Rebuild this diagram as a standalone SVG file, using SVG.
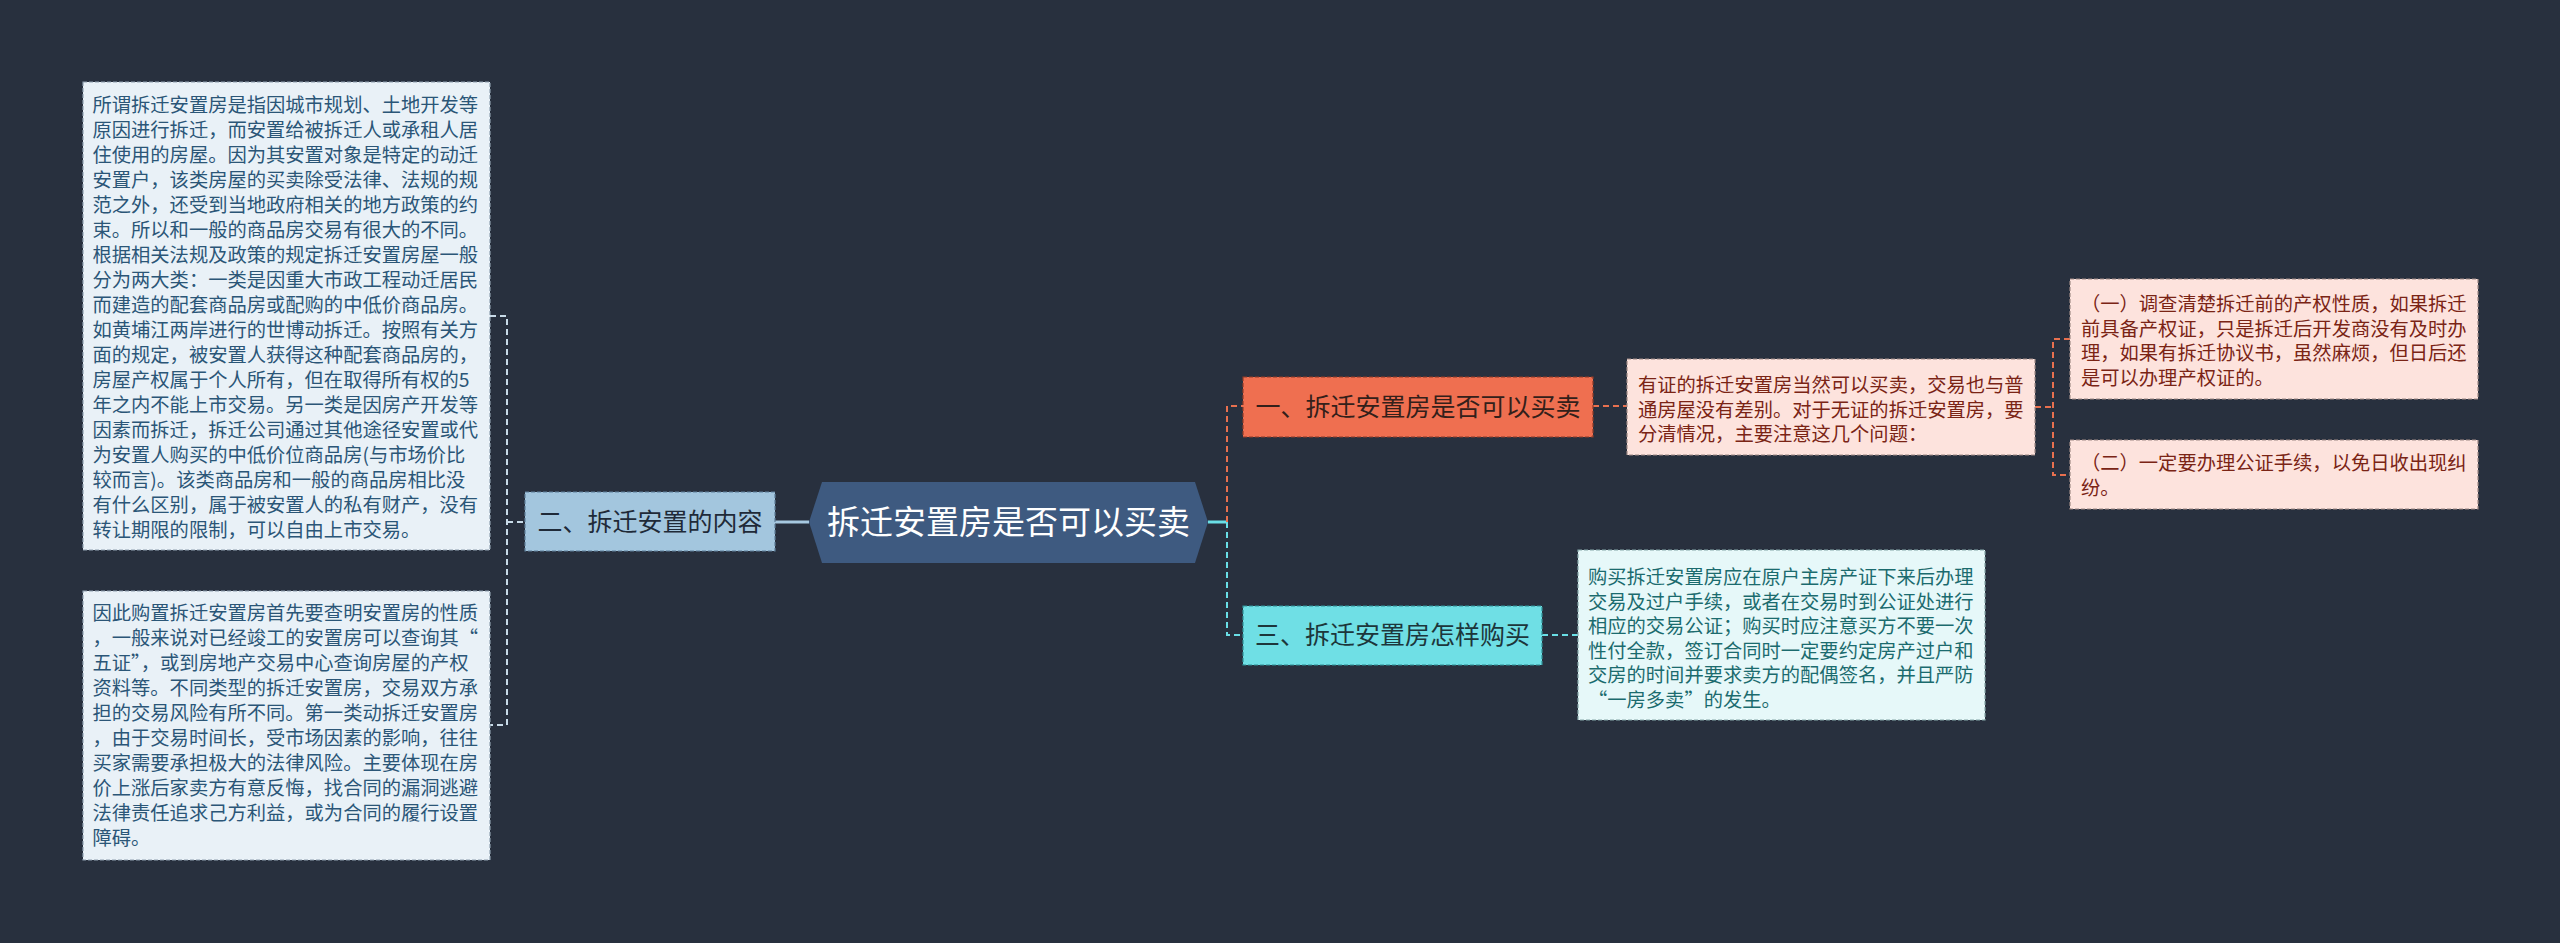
<svg xmlns="http://www.w3.org/2000/svg" width="2560" height="943" viewBox="0 0 2560 943">
<style>
text{font-family:"Noto Sans CJK SC","Noto Sans",sans-serif;}
.d{font-size:19.3px;}
.lb{fill:#e9f1f7;stroke:#8fa0b0;stroke-width:1.2;stroke-dasharray:4 2;}
.lt{fill:#2b5677;}
.pk{fill:#fde3dd;stroke:#a08a86;stroke-width:1.2;stroke-dasharray:4 2;}
.pt{fill:#7a2415;}
.cy{fill:#e6f8f9;stroke:#86a7a9;stroke-width:1.2;stroke-dasharray:4 2;}
.ct{fill:#1b6b6e;}
.t{font-size:25px;text-anchor:middle;}
.co{fill:none;stroke-width:2;stroke-dasharray:6 4;}
</style>
<rect width="2560" height="943" fill="#28303e"/>
<g id="connectors">
<path class="co" stroke="#c9dbe8" d="M490,316 H507 V725 H490 M507,522 H525"/>
<line x1="775" y1="522" x2="809" y2="522" stroke="#a6c8e0" stroke-width="3"/>
<line x1="1208" y1="522" x2="1227" y2="522" stroke="#6adfe6" stroke-width="3"/>
<path class="co" stroke="#e8704f" d="M1227,522 V406 H1243"/>
<path class="co" stroke="#e8704f" d="M1593,406 H1627"/>
<path class="co" stroke="#e8704f" d="M2035,407 H2053 M2070,339 H2053 V475 H2070"/>
<path class="co" stroke="#6adfe6" d="M1227,522 V635 H1243"/>
<path class="co" stroke="#6adfe6" d="M1542,635 H1578"/>
</g>
<g id="root">
<polygon points="809,522 822,482 1195,482 1208,522 1195,563 822,563" fill="#3e5a80"/>
<text x="1008.5" y="534" font-size="33" text-anchor="middle" fill="#ffffff">拆迁安置房是否可以买卖</text>
</g>
<g id="topic2">
<rect x="525" y="492" width="250" height="59" fill="#a3c6de" stroke="#5f7f99" stroke-width="1.2" stroke-dasharray="4 2"/>
<text class="t" x="650" y="531" fill="#1f2a38">二、拆迁安置的内容</text>
</g>
<g id="left1">
<rect class="lb" x="83" y="82" width="407" height="468"/>
<text class="d lt">
<tspan x="92.5" y="112">所谓拆迁安置房是指因城市规划、土地开发等</tspan>
<tspan x="92.5" y="137">原因进行拆迁，而安置给被拆迁人或承租人居</tspan>
<tspan x="92.5" y="162">住使用的房屋。因为其安置对象是特定的动迁</tspan>
<tspan x="92.5" y="187">安置户，该类房屋的买卖除受法律、法规的规</tspan>
<tspan x="92.5" y="212">范之外，还受到当地政府相关的地方政策的约</tspan>
<tspan x="92.5" y="237">束。所以和一般的商品房交易有很大的不同。</tspan>
<tspan x="92.5" y="262">根据相关法规及政策的规定拆迁安置房屋一般</tspan>
<tspan x="92.5" y="287">分为两大类：一类是因重大市政工程动迁居民</tspan>
<tspan x="92.5" y="312">而建造的配套商品房或配购的中低价商品房。</tspan>
<tspan x="92.5" y="337">如黄埔江两岸进行的世博动拆迁。按照有关方</tspan>
<tspan x="92.5" y="362">面的规定，被安置人获得这种配套商品房的，</tspan>
<tspan x="92.5" y="387">房屋产权属于个人所有，但在取得所有权的5</tspan>
<tspan x="92.5" y="412">年之内不能上市交易。另一类是因房产开发等</tspan>
<tspan x="92.5" y="437">因素而拆迁，拆迁公司通过其他途径安置或代</tspan>
<tspan x="92.5" y="462">为安置人购买的中低价位商品房(与市场价比</tspan>
<tspan x="92.5" y="487">较而言)。该类商品房和一般的商品房相比没</tspan>
<tspan x="92.5" y="512">有什么区别，属于被安置人的私有财产，没有</tspan>
<tspan x="92.5" y="537">转让期限的限制，可以自由上市交易。</tspan>
</text>
</g>
<g id="left2">
<rect class="lb" x="83" y="591" width="407" height="269"/>
<text class="d lt">
<tspan x="92.5" y="620">因此购置拆迁安置房首先要查明安置房的性质</tspan>
<tspan x="92.5" y="645">，一般来说对已经竣工的安置房可以查询其“</tspan>
<tspan x="92.5" y="670">五证”，或到房地产交易中心查询房屋的产权</tspan>
<tspan x="92.5" y="695">资料等。不同类型的拆迁安置房，交易双方承</tspan>
<tspan x="92.5" y="720">担的交易风险有所不同。第一类动拆迁安置房</tspan>
<tspan x="92.5" y="745">，由于交易时间长，受市场因素的影响，往往</tspan>
<tspan x="92.5" y="770">买家需要承担极大的法律风险。主要体现在房</tspan>
<tspan x="92.5" y="795">价上涨后家卖方有意反悔，找合同的漏洞逃避</tspan>
<tspan x="92.5" y="820">法律责任追求己方利益，或为合同的履行设置</tspan>
<tspan x="92.5" y="845">障碍。</tspan>
</text>
</g>
<g id="topic1">
<rect x="1243" y="377" width="350" height="60" fill="#ef6f50" stroke="#8e3b28" stroke-width="1.2" stroke-dasharray="4 2"/>
<text class="t" x="1418" y="416" fill="#33201a">一、拆迁安置房是否可以买卖</text>
</g>
<g id="detail1">
<rect class="pk" x="1627" y="359" width="408" height="96"/>
<text class="d pt">
<tspan x="1638" y="392">有证的拆迁安置房当然可以买卖，交易也与普</tspan>
<tspan x="1638" y="416.5">通房屋没有差别。对于无证的拆迁安置房，要</tspan>
<tspan x="1638" y="441">分清情况，主要注意这几个问题：</tspan>
</text>
</g>
<g id="sub1">
<rect class="pk" x="2070" y="279" width="408" height="120"/>
<text class="d pt">
<tspan x="2081" y="311">（一）调查清楚拆迁前的产权性质，如果拆迁</tspan>
<tspan x="2081" y="336">前具备产权证，只是拆迁后开发商没有及时办</tspan>
<tspan x="2081" y="360">理，如果有拆迁协议书，虽然麻烦，但日后还</tspan>
<tspan x="2081" y="385">是可以办理产权证的。</tspan>
</text>
</g>
<g id="sub2">
<rect class="pk" x="2070" y="440" width="408" height="69"/>
<text class="d pt">
<tspan x="2081" y="470">（二）一定要办理公证手续，以免日收出现纠</tspan>
<tspan x="2081" y="495">纷。</tspan>
</text>
</g>
<g id="topic3">
<rect x="1243" y="606" width="299" height="59" fill="#6fdfe5" stroke="#2f8f95" stroke-width="1.2" stroke-dasharray="4 2"/>
<text class="t" x="1392.5" y="644" fill="#1d363b">三、拆迁安置房怎样购买</text>
</g>
<g id="detail3">
<rect class="cy" x="1578" y="550" width="407" height="170"/>
<text class="d ct">
<tspan x="1588" y="584">购买拆迁安置房应在原户主房产证下来后办理</tspan>
<tspan x="1588" y="609">交易及过户手续，或者在交易时到公证处进行</tspan>
<tspan x="1588" y="633">相应的交易公证；购买时应注意买方不要一次</tspan>
<tspan x="1588" y="658">性付全款，签订合同时一定要约定房产过户和</tspan>
<tspan x="1588" y="682">交房的时间并要求卖方的配偶签名，并且严防</tspan>
<tspan x="1588" y="707">“一房多卖”的发生。</tspan>
</text>
</g>
</svg>
